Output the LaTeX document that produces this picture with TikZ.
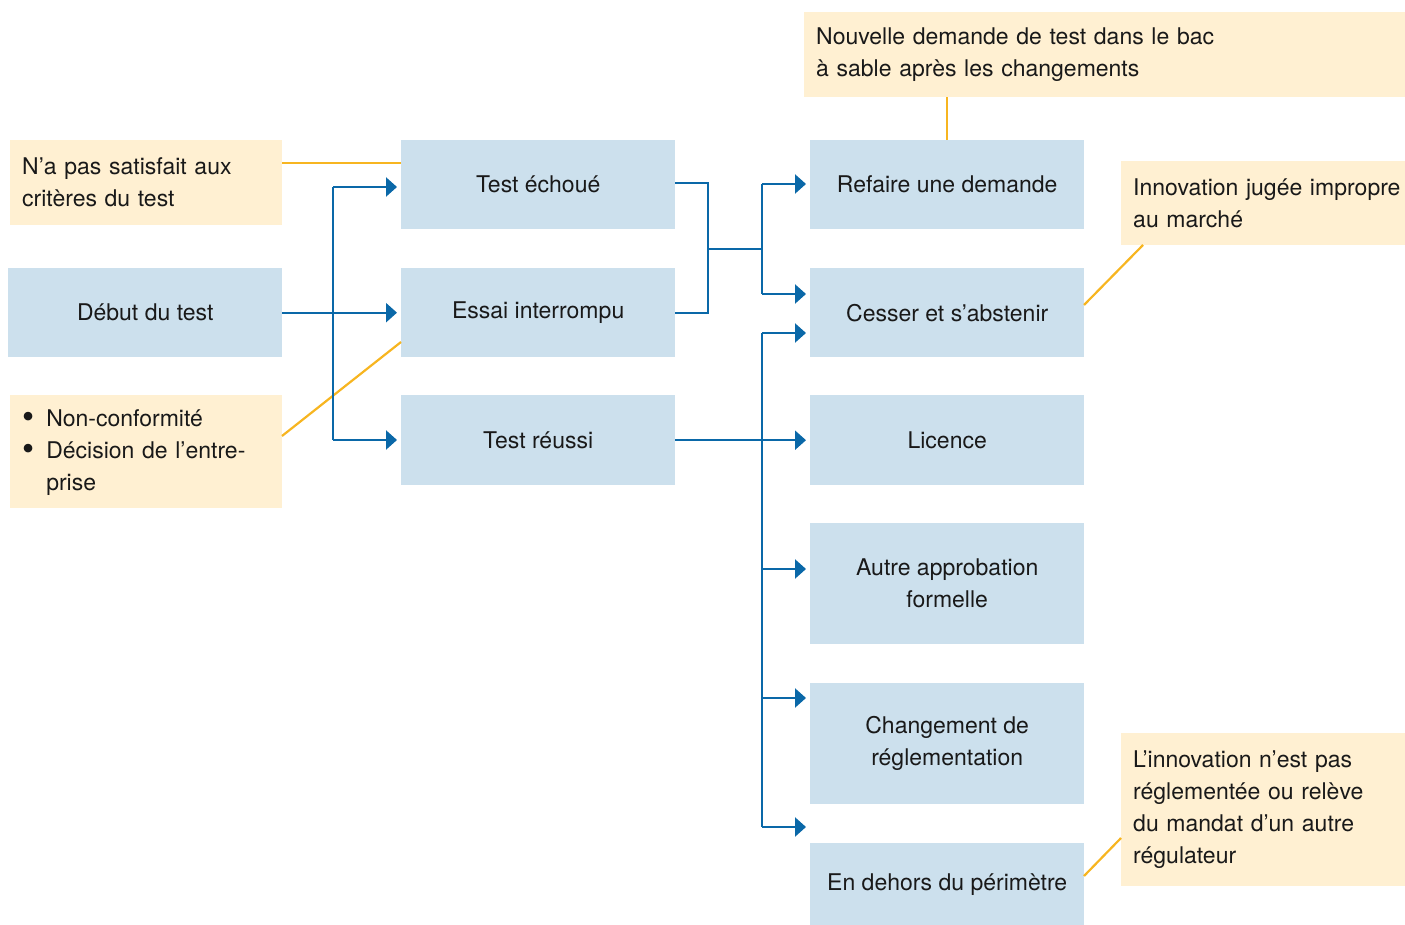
\documentclass[tikz,border=0pt]{standalone}
\usepackage{fontspec}
\setmainfont{TeX Gyre Heros}
\usetikzlibrary{arrows.meta}
\definecolor{boxblue}{HTML}{CCE0ED}
\definecolor{notebg}{HTML}{FFF0D2}
\definecolor{lineblue}{HTML}{0A68A8}
\definecolor{lineorange}{HTML}{F7B520}
\newcommand{\bigbul}{\raisebox{-2.5pt}{\scalebox{1.5}{\textbullet}}}
\begin{document}
\hyphenpenalty=10000
\exhyphenpenalty=10000
\hbadness=10000
\hfuzz=100pt
\begin{tikzpicture}[x=1pt,y=-1pt,
  font=\fontsize{23}{32}\selectfont,
  box/.style={fill=boxblue, draw=none, minimum width=274pt, minimum height=#1,
    inner sep=0pt, align=center, anchor=north west, text=black!90},
  note/.style={fill=notebg, draw=none, minimum width=#1, text width=#1-24pt,
    inner xsep=12pt, inner ysep=0pt, align=left, anchor=north west, text=black!90},
  bl/.style={draw=lineblue, line width=2.4pt},
  arr/.style={bl, -{Triangle[length=11pt,width=19pt]}, shorten >=4pt},
  org/.style={draw=lineorange, line width=2.2pt}]
\useasboundingbox (0,0) rectangle (1405,925);

% left column
\node[note=272pt, minimum height=85pt] (n1) at (10,140) {N’a pas satisfait aux\\critères du test};
\node[box=89pt, minimum width=274pt] (debut) at (8,268) {Début du test};
\node[note=272pt, minimum height=113pt] (n2) at (10,395)
  {\begin{tabular}{@{}l@{\hspace{12pt}}l@{}}\bigbul & Non-conformité\\ \bigbul & Décision de l’entre-\\ & prise\end{tabular}};

% middle column
\node[box=89pt] (echoue) at (401,140) {Test échoué};
\node[box=89pt] (essai) at (401,268) {Essai interrompu};
\node[box=90pt] (reussi) at (401,395) {Test réussi};

% right column
\node[box=89pt] (refaire) at (810,140) {Refaire une demande};
\node[box=89pt] (cesser) at (810,268) {Cesser et s’abstenir};
\node[box=90pt] (licence) at (810,395) {Licence};
\node[box=121pt] (autre) at (810,523) {Autre approbation\\formelle};
\node[box=121pt] (change) at (810,683) {Changement de\\réglementation};
\node[box=82pt] (dehors) at (810,843) {En dehors du périmètre};

% notes right
\node[note=601pt, minimum height=85pt] (nouv) at (804,12) {Nouvelle demande de test dans le bac\\à sable après les changements};
\node[note=284pt, minimum height=84pt] (innov) at (1121,161) {\mbox{Innovation jugée impropre}\\au marché};
\node[note=284pt, minimum height=153pt] (linnov) at (1121,733) {L’innovation n’est pas\\réglementée ou relève\\du mandat d’un autre\\régulateur};

% orange connectors
\coordinate (o1) at (282,163);
\draw[org] (o1) -- (echoue.west |- o1);
\coordinate (o2a) at (282,436);
\coordinate (o2b) at (401,342);
\draw[org] (o2a) -- (o2b);
\draw[org] (refaire.north) -- (refaire.north |- nouv.south);
\coordinate (o3a) at (1143,245);
\coordinate (o3b) at (1084,305);
\draw[org] (o3a) -- (o3b);
\coordinate (o4a) at (1121,838);
\coordinate (o4b) at (1084,876);
\draw[org] (o4a) -- (o4b);

% blue connectors
\draw[arr] (debut.east) -- (essai.west);
\coordinate (a1) at (333,187);
\coordinate (a2) at (333,440);
\draw[bl] (a1) -- (a2);
\draw[arr] (a1) -- (echoue.west |- a1);
\draw[arr] (a2) -- (reussi.west |- a2);

\coordinate (b1) at (708,183);
\coordinate (b2) at (708,313);
\coordinate (bm) at (708,249);
\coordinate (c0) at (762,249);
\draw[bl] (echoue.east |- b1) -- (b1) -- (b2) -- (essai.east |- b2);
\draw[bl] (bm) -- (c0);
\coordinate (c1) at (762,184);
\coordinate (c2) at (762,294);
\draw[bl] (c1) -- (c2);
\draw[arr] (c1) -- (refaire.west |- c1);
\draw[arr] (c2) -- (cesser.west |- c2);

\draw[arr] (reussi.east) -- (licence.west);
\coordinate (d1) at (762,333);
\coordinate (d2) at (762,569);
\coordinate (d3) at (762,698);
\coordinate (d4) at (762,827);
\draw[bl] (d1) -- (d4);
\draw[arr] (d1) -- (cesser.west |- d1);
\draw[arr] (d2) -- (autre.west |- d2);
\draw[arr] (d3) -- (change.west |- d3);
\draw[arr] (d4) -- (dehors.west |- d4);
\end{tikzpicture}
\end{document}
